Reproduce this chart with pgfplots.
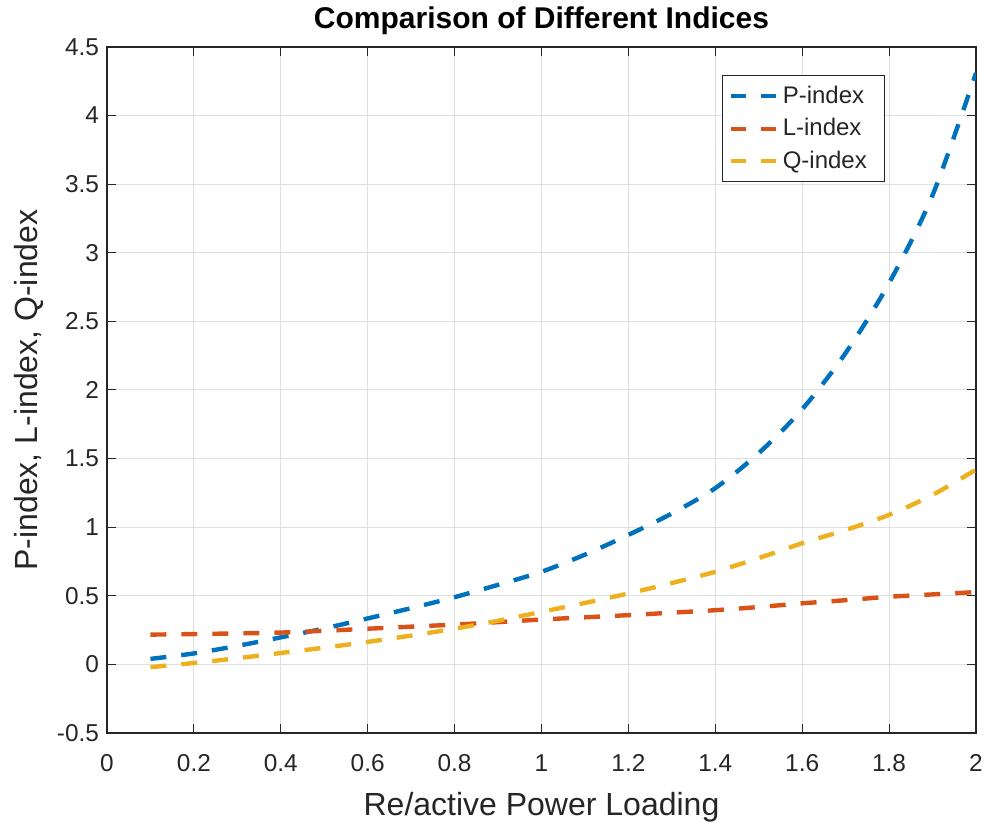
\documentclass[border=0pt]{standalone}
\usepackage{pgfplots}
\pgfplotsset{compat=1.18}
\usepackage{fontspec}
\setmainfont{Liberation Sans}
\definecolor{mblue}{HTML}{0072BD}
\definecolor{morange}{HTML}{D95319}
\definecolor{myellow}{HTML}{EDB120}
\definecolor{axgray}{gray}{0.15}
\begin{document}
\begin{tikzpicture}
\begin{axis}[
  scale only axis,
  width=434.5pt, height=343pt,
  xmin=0, xmax=2, ymin=-0.5, ymax=4.5,
  xtick={0,0.2,...,2.01},
  ytick={-0.5,0,...,4.51},
  xticklabels={0,0.2,0.4,0.6,0.8,1,1.2,1.4,1.6,1.8,2},
  yticklabels={-0.5,0,0.5,1,1.5,2,2.5,3,3.5,4,4.5},
  tick align=inside,
  major tick length=4.5pt,
  tick style={axgray, line width=0.5pt},
  axis line style={axgray, line width=0.6pt},
  grid=major,
  grid style={gray!25, line width=0.5pt},
  ticklabel style={font=\fontsize{12.2}{14}\selectfont, text=axgray},
  xticklabel style={anchor=base, yshift=-19.5pt},
  yticklabel style={xshift=-0.5pt},
  /pgf/number format/assume math mode=true,
  xlabel={Re/active Power Loading},
  ylabel={P-index, L-index, Q-index},
  label style={font=\fontsize{16}{18}\selectfont, text=axgray},
  xlabel style={at={(axis description cs:0.5,0)}, anchor=base, yshift=-41.5pt},
  ylabel style={at={(axis description cs:-0.0898,0.5)}, anchor=center},
  title={\textbf{Comparison of Different Indices}},
  title style={font=\fontsize{15}{18}\selectfont, at={(axis description cs:0.5,1)}, anchor=base, yshift=3pt},
  legend style={at={(0.895,0.959)}, anchor=north east, draw=axgray, line width=0.6pt,
     font=\fontsize{12}{14}\selectfont, text=axgray, row sep=2.2pt, inner sep=3pt},
  legend cell align=left,
  legend image code/.code={\draw[#1, line width=2pt, dash pattern=on 7.5pt off 7.5pt] (0pt,0pt) -- (23pt,0pt);},
  every axis plot/.append style={line width=2.2pt, dash pattern=on 8pt off 7.5pt, smooth},
]
\coordinate (bl) at (rel axis cs:0,0);
\coordinate (tr) at (rel axis cs:1,1);
\addplot[mblue] coordinates {
(0.1,0.04) (0.2,0.08) (0.3,0.135) (0.4,0.197) (0.5,0.262) (0.6,0.335) (0.7,0.41)
(0.8,0.49) (0.9,0.58) (1.0,0.675) (1.1,0.8) (1.2,0.944) (1.3,1.1) (1.4,1.285)
(1.5,1.54) (1.6,1.86) (1.7,2.27) (1.8,2.78) (1.9,3.42) (2.0,4.31)};
\addlegendentry{P-index\hspace*{5pt}}
\addplot[morange] coordinates {
(0.1,0.217) (0.2,0.221) (0.3,0.226) (0.4,0.232) (0.5,0.245) (0.6,0.26) (0.7,0.275)
(0.8,0.29) (0.9,0.308) (1.0,0.327) (1.1,0.343) (1.2,0.359) (1.3,0.377) (1.4,0.395)
(1.5,0.418) (1.6,0.445) (1.7,0.468) (1.8,0.493) (1.9,0.51) (2.0,0.527)};
\addlegendentry{L-index}
\addplot[myellow] coordinates {
(0.1,-0.02) (0.2,0.01) (0.3,0.045) (0.4,0.083) (0.5,0.122) (0.6,0.164) (0.7,0.21)
(0.8,0.26) (0.9,0.318) (1.0,0.383) (1.1,0.448) (1.2,0.517) (1.3,0.593) (1.4,0.675)
(1.5,0.775) (1.6,0.883) (1.7,0.98) (1.8,1.09) (1.9,1.235) (2.0,1.42)};
\addlegendentry{Q-index}
\end{axis}
\pgfresetboundingbox
\path[use as bounding box] ([shift={(-53.5pt,-47pt)}]bl) rectangle ([shift={(6.5pt,23.5pt)}]tr);
\end{tikzpicture}
\end{document}
